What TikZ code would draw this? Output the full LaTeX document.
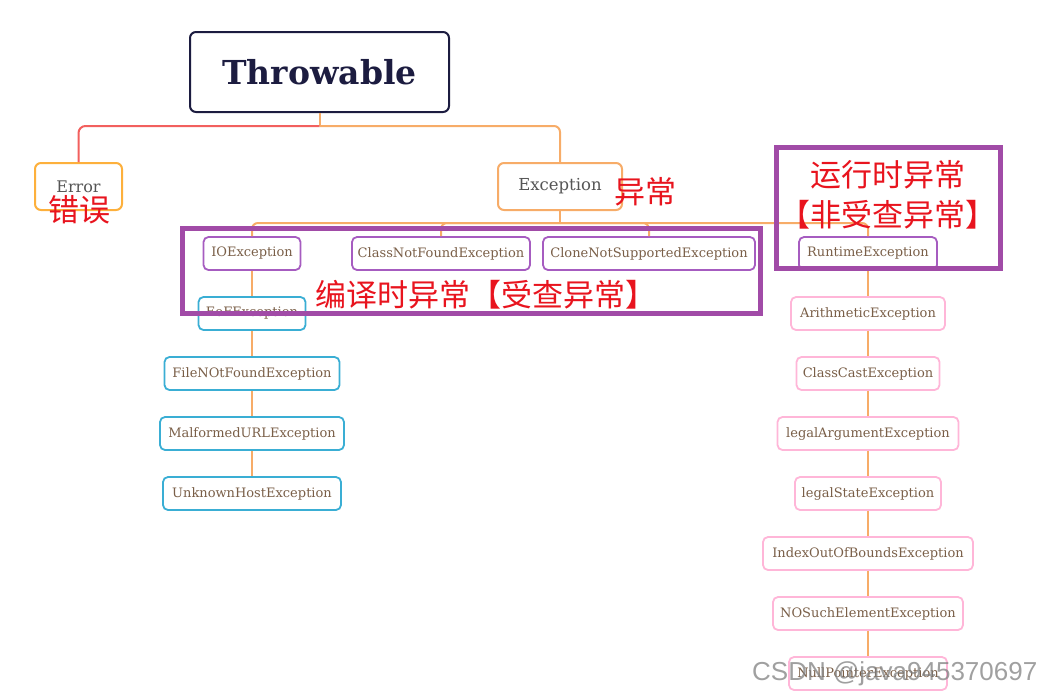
\documentclass[tikz,border=0pt]{standalone}
\usepackage{fontspec}
\setmainfont{DejaVu Serif}
\newfontfamily\cjk{Noto Sans CJK SC}
\newfontfamily\wmfont{Liberation Sans}
\usetikzlibrary{calc}
\definecolor{navy}{HTML}{1C1C40}
\definecolor{orl}{HTML}{F7AC68}
\definecolor{redl}{HTML}{F2605E}
\definecolor{orb}{HTML}{FDB03C}
\definecolor{purb}{HTML}{A65CC0}
\definecolor{cyanb}{HTML}{3AAED4}
\definecolor{pinkb}{HTML}{FFB6D8}
\definecolor{txtb}{HTML}{7A5F48}
\definecolor{txtg}{HTML}{555555}
\definecolor{bigp}{HTML}{A14BA7}
\definecolor{redt}{HTML}{E8141E}
\tikzset{
  box/.style={draw, rounded corners=5pt, line width=1.8pt, fill=white, minimum height=33pt, inner sep=0pt, font=\fontsize{13}{15}\selectfont, text=txtb},
  pbox/.style={box, draw=purb},
  cbox/.style={box, draw=cyanb},
  kbox/.style={box, draw=pinkb},
  conn/.style={draw=orl, line width=2pt, rounded corners=6pt},
  frame/.style={draw=bigp, line width=5pt},
  redlabel/.style={text=redt, font=\cjk\fontsize{31}{34}\selectfont, inner sep=0pt},
}
\begin{document}
\begin{tikzpicture}[x=1pt,y=-1pt]
\useasboundingbox (0,0) rectangle (1053,694);
% main nodes
\node[draw=navy, line width=2pt, rounded corners=6pt, minimum width=259pt, minimum height=80pt, text=navy, font=\bfseries\fontsize{33}{36}\selectfont, fill=white] (thr) at (319.5,72) {Throwable};
\node[draw=orb, line width=2pt, rounded corners=6pt, minimum width=87pt, minimum height=47pt, text=txtg, font=\fontsize{16}{18}\selectfont, fill=white] (err) at (78.5,186.5) {Error};
\node[draw=orl, line width=2pt, rounded corners=6pt, minimum width=124pt, minimum height=47pt, text=txtg, font=\fontsize{16.5}{18}\selectfont, fill=white] (exc) at (560,186.5) {Exception};
% level 2
\node[pbox, minimum width=97pt] (ioe) at (252,253.5) {IOException};
\node[pbox, minimum width=178pt] (cnf) at (441,253.5) {ClassNotFoundException};
\node[pbox, minimum width=212pt] (cns) at (649,253.5) {CloneNotSupportedException};
\node[pbox, minimum width=138pt] (rte) at (868,253.5) {RuntimeException};
% IO children
\node[cbox, minimum width=107pt] (eof) at (252,313.5) {EoFException};
\node[cbox, minimum width=175pt] (fnf) at (252,373.5) {FileNOtFoundException};
\node[cbox, minimum width=184pt] (mal) at (252,433.5) {MalformedURLException};
\node[cbox, minimum width=178pt] (uhe) at (252,493.5) {UnknownHostException};
% runtime children
\node[kbox, minimum width=154pt] (ari) at (868,313.5) {ArithmeticException};
\node[kbox, minimum width=143pt] (cce) at (868,373.5) {ClassCastException};
\node[kbox, minimum width=181pt] (iae) at (868,433.5) {legalArgumentException};
\node[kbox, minimum width=146pt] (ise) at (868,493.5) {legalStateException};
\node[kbox, minimum width=210pt] (ioob) at (868,553.5) {IndexOutOfBoundsException};
\node[kbox, minimum width=190pt] (nse) at (868,613.5) {NOSuchElementException};
\node[kbox, minimum width=158pt] (npe) at (868,673.5) {NullPointerException};
% connectors
\coordinate (tb) at ($(thr.south)+(0,13)$);
\coordinate (eb) at ($(exc.south)+(0,12)$);
\draw[draw=orl, line width=2pt] (thr.south) -- (tb);
\draw[draw=redl, line width=2pt, rounded corners=7pt] (tb) -| (err.north);
\draw[conn] (tb) -| (exc.north);
\draw[draw=orl, line width=2pt] (exc.south) -- (eb);
\draw[conn] (eb) -| (ioe.north);
\draw[conn] (eb) -| (cnf.north);
\draw[conn] (eb) -| (cns.north);
\draw[conn] (eb) -| (rte.north);
\draw[conn] (ioe.south) -- (eof.north);
\draw[conn] (eof.south) -- (fnf.north);
\draw[conn] (fnf.south) -- (mal.north);
\draw[conn] (mal.south) -- (uhe.north);
\draw[conn] (rte.south) -- (ari.north);
\draw[conn] (ari.south) -- (cce.north);
\draw[conn] (cce.south) -- (iae.north);
\draw[conn] (iae.south) -- (ise.north);
\draw[conn] (ise.south) -- (ioob.north);
\draw[conn] (ioob.south) -- (nse.north);
\draw[conn] (nse.south) -- (npe.north);
% annotation frames
\node[frame, minimum width=578pt, minimum height=85pt, inner sep=0pt] (f1) at (471,270.5) {};
\node[frame, minimum width=224pt, minimum height=121pt, inner sep=0pt] (f2) at (888,207.5) {};
% red labels
\node[redlabel] (l1) at (79,210) {错误};
\node[redlabel] (l2) at (645,192) {异常};
\node[redlabel] (l3) at (486,295) {编译时异常【受查异常】};
\node[redlabel, align=center, font=\cjk\fontsize{31}{40}\selectfont] (l4) at (888,195) {运行时异常\\【非受查异常】};
% watermark
\node[text=gray, opacity=0.75, font=\wmfont\fontsize{26}{28}\selectfont, anchor=west, inner sep=0pt] (wm) at (752,674) {CSDN @java945370697};
\end{tikzpicture}
\end{document}
